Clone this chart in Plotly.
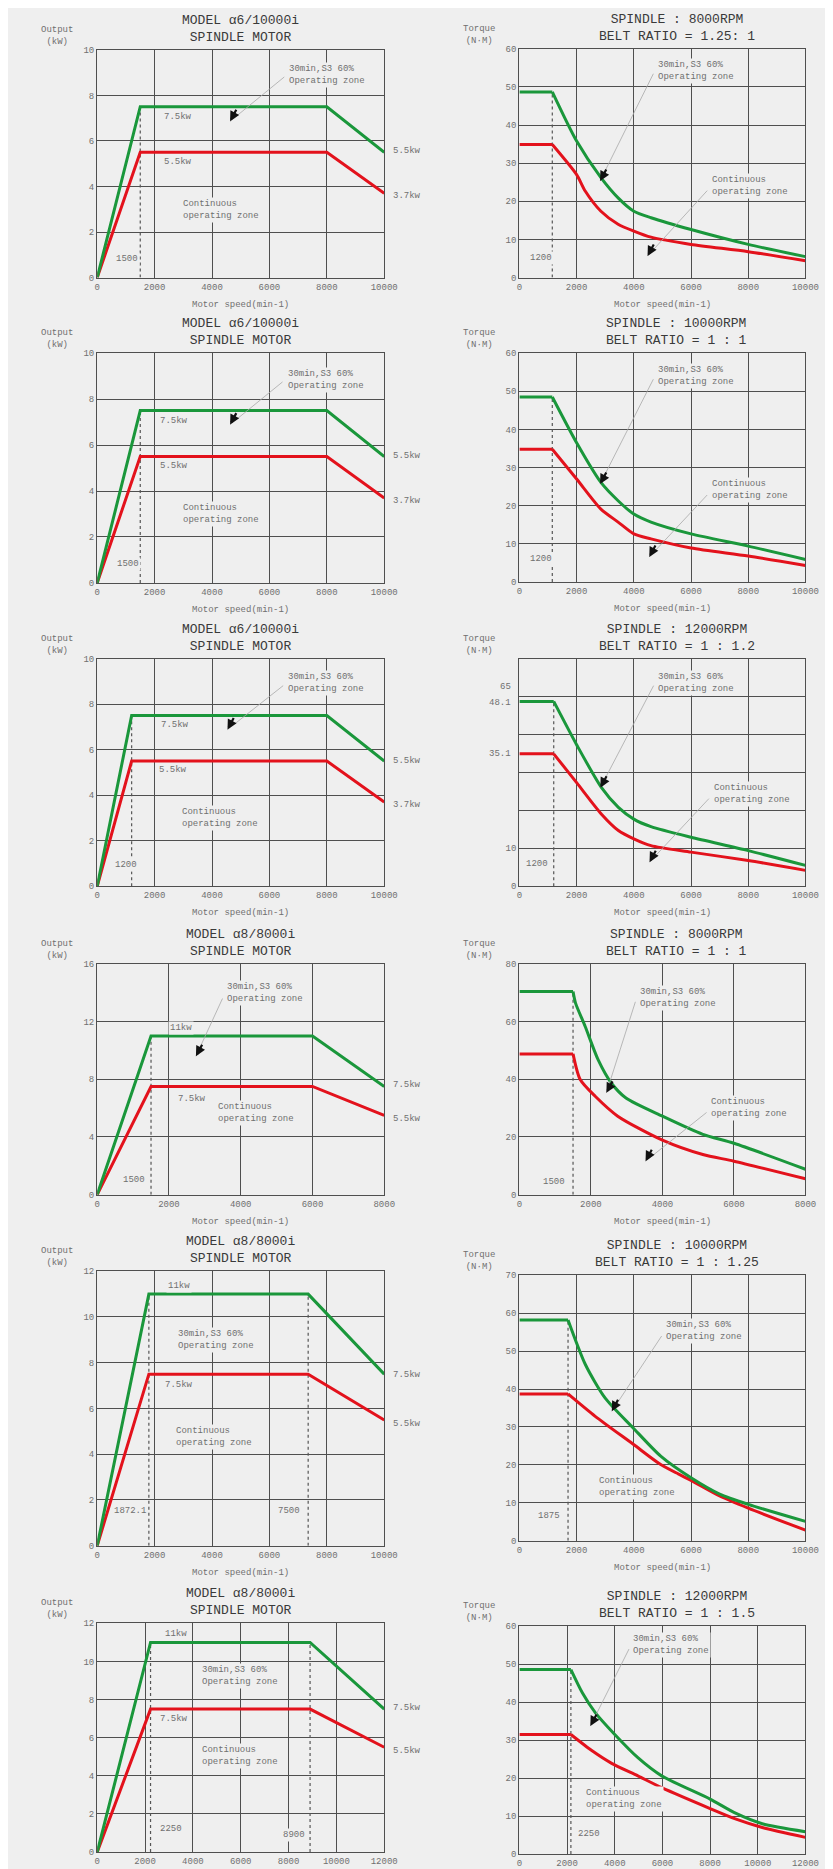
import plotly.graph_objects as go

# ======================= DATA =======================
# --- Output (power) charts, left column: motor speed [min-1] vs output [kW]
pw1_speed = [0, 1500, 8000, 10000]
pw1_30min = [0, 7.5, 7.5, 5.5]
pw1_cont = [0, 5.5, 5.5, 3.7]

pw2_speed = [0, 1500, 8000, 10000]
pw2_30min = [0, 7.5, 7.5, 5.5]
pw2_cont = [0, 5.5, 5.5, 3.7]

pw3_speed = [0, 1200, 8000, 10000]
pw3_30min = [0, 7.5, 7.5, 5.5]
pw3_cont = [0, 5.5, 5.5, 3.7]

pw4_speed = [0, 1500, 6000, 8000]
pw4_30min = [0, 11, 11, 7.5]
pw4_cont = [0, 7.5, 7.5, 5.5]

pw5_speed = [0, 1800, 7350, 10000]
pw5_30min = [0, 11, 11, 7.5]
pw5_cont = [0, 7.5, 7.5, 5.5]

pw6_speed = [0, 2230, 8900, 12000]
pw6_30min = [0, 11, 11, 7.5]
pw6_cont = [0, 7.5, 7.5, 5.5]

# --- Torque charts, right column: motor speed [min-1] vs torque [N*m]
tq1_speed_g = [0, 1150, 2000, 2850, 3450, 4000, 4600, 6000, 8000, 10000]
tq1_30min = [48.7, 48.7, 35.8, 26.2, 20.9, 17.4, 15.7, 12.6, 8.7, 5.5]
tq1_speed_r = [0, 1150, 2000, 2300, 2850, 3450, 4000, 4600, 6000, 8000, 10000]
tq1_cont = [34.9, 34.9, 27.0, 22.7, 17.4, 14.0, 12.2, 10.6, 8.7, 6.8, 4.4]

tq2_speed_g = [0, 1150, 2000, 2850, 3450, 4000, 4600, 6000, 8000, 10000]
tq2_30min = [48.5, 48.5, 36.5, 26.1, 21.3, 17.8, 15.7, 12.6, 9.4, 5.9]
tq2_speed_r = [0, 1150, 2000, 2850, 3450, 4000, 4600, 6000, 8000, 10000]
tq2_cont = [34.8, 34.8, 27.0, 19.1, 15.7, 12.6, 11.3, 8.9, 6.8, 4.3]

tq3_speed_g = [0, 1200, 2000, 2870, 3460, 4000, 4600, 6000, 8000, 10000]
tq3_30min = [48.7, 48.7, 37.3, 26.0, 20.8, 17.7, 15.7, 12.9, 9.4, 5.5]
tq3_speed_r = [0, 1200, 2000, 2870, 3460, 4000, 4600, 6000, 8000, 10000]
tq3_cont = [34.9, 34.9, 27.3, 19.0, 14.7, 12.5, 10.7, 9.0, 6.8, 4.2]

tq4_speed_g = [0, 1500, 1570, 1840, 2200, 2570, 2980, 4000, 5130, 6000, 8000]
tq4_30min = [70.4, 70.4, 66.4, 58.3, 46.8, 38.7, 33.5, 27.2, 20.9, 17.8, 8.8]
tq4_speed_r = [0, 1500, 1700, 2120, 2750, 4000, 5130, 6000, 8000]
tq4_cont = [48.8, 48.8, 39.9, 34.1, 27.2, 18.9, 13.9, 11.6, 5.5]

tq5_speed_g = [0, 1700, 2310, 3000, 3970, 4940, 6000, 7000, 8000, 10000]
tq5_30min = [58.2, 58.2, 46.4, 37.6, 29.8, 22.3, 16.6, 12.3, 9.6, 5.1]
tq5_speed_r = [0, 1700, 2650, 3970, 4940, 6000, 7000, 8000, 10000]
tq5_cont = [38.7, 38.7, 32.8, 25.5, 20.1, 15.9, 11.8, 8.6, 2.8]

tq6_speed_g = [0, 2160, 2640, 3190, 4000, 4970, 5970, 8000, 9090, 10190, 12000]
tq6_30min = [48.6, 48.6, 42.5, 37.2, 31.5, 25.4, 20.6, 14.5, 10.7, 8.0, 5.9]
tq6_speed_r = [0, 2160, 3050, 3870, 4970, 5970, 8000, 9090, 10190, 12000]
tq6_cont = [31.5, 31.5, 27.2, 23.9, 20.6, 17.5, 12.0, 9.2, 7.0, 4.4]

# --- Titles and tick labels
titles = [
    ("MODEL α6/10000i", "SPINDLE MOTOR"),
    ("SPINDLE : 8000RPM", "BELT RATIO = 1.25: 1"),
    ("MODEL α6/10000i", "SPINDLE MOTOR"),
    ("SPINDLE : 10000RPM", "BELT RATIO = 1 : 1"),
    ("MODEL α6/10000i", "SPINDLE MOTOR"),
    ("SPINDLE : 12000RPM", "BELT RATIO = 1 : 1.2"),
    ("MODEL α8/8000i", "SPINDLE MOTOR"),
    ("SPINDLE : 8000RPM", "BELT RATIO = 1 : 1"),
    ("MODEL α8/8000i", "SPINDLE MOTOR"),
    ("SPINDLE : 10000RPM", "BELT RATIO = 1 : 1.25"),
    ("MODEL α8/8000i", "SPINDLE MOTOR"),
    ("SPINDLE : 12000RPM", "BELT RATIO = 1 : 1.5"),
]
x_ticks_10k = [0, 2000, 4000, 6000, 8000, 10000]
x_ticks_8k = [0, 2000, 4000, 6000, 8000]
x_ticks_12k = [0, 2000, 4000, 6000, 8000, 10000, 12000]
y_ticks_pw10 = [0, 2, 4, 6, 8, 10]
y_ticks_pw12 = [0, 2, 4, 6, 8, 10, 12]
y_ticks_pw16 = [0, 4, 8, 12, 16]
y_ticks_tq60 = [0, 10, 20, 30, 40, 50, 60]
y_ticks_tq70 = [0, 10, 20, 30, 40, 50, 60, 70]
y_ticks_tq80 = [0, 20, 40, 60, 80]

# ======================= STYLE / LAYOUT =======================
W, H = 833, 1869
BG = "#efefef"
GRID = "#4f4f4f"
GREEN = "#1a973b"
RED = "#e3121c"
TXT = "#707070"
MONO = "Liberation Mono"

# plot boxes in pixels: (left, right, top, bottom)
boxes = [
    (88, 381, 38, 267), (519, 811, 37, 267),
    (88, 381, 343, 574), (519, 811, 343, 573),
    (88, 381, 650, 879), (519, 811, 650, 879),
    (88, 381, 957, 1189), (519, 811, 957, 1189),
    (88, 381, 1266, 1542), (519, 811, 1270, 1537),
    (88, 381, 1620, 1850), (519, 811, 1623, 1852),
]

Z30 = "30min,S3 60%<br>Operating zone"
ZC = "Continuous<br>operating zone"

panels = [
    dict(kind="pw", sx=pw1_speed, g=pw1_30min, r=pw1_cont, xt=x_ticks_10k, yt=y_ticks_pw10,
         dashes=[pw1_speed[1]],
         texts=[(Z30, .663, .89, "left"), ("7.5kw", .28, .704, "center"), ("5.5kw", .28, .508, "center"),
                (ZC, .291, .295, "left"), ("1500", .103, .08, "center")],
         right=[("5.5kw", .555), ("3.7kw", .358)],
         arrows=[(.463, .686, .653, .885)]),
    dict(kind="tq", sxg=tq1_speed_g, g=tq1_30min, sxr=tq1_speed_r, r=tq1_cont, xt=x_ticks_10k, yt=y_ticks_tq60,
         dashes=[tq1_speed_g[1]],
         texts=[(Z30, .477, .904, "left"), (ZC, .667, .40, "left"), ("1200", .075, .087, "center")],
         right=[], arrows=[(.282, .422, .467, .895), (.448, .094, .657, .385)]),
    dict(kind="pw", sx=pw2_speed, g=pw2_30min, r=pw2_cont, xt=x_ticks_10k, yt=y_ticks_pw10,
         dashes=[pw2_speed[1]],
         texts=[(Z30, .657, .884, "left"), ("7.5kw", .269, .704, "center"), ("5.5kw", .269, .509, "center"),
                (ZC, .291, .299, "left"), ("1500", .109, .082, "center")],
         right=[("5.5kw", .552), ("3.7kw", .357)],
         arrows=[(.463, .689, .647, .879)]),
    dict(kind="tq", sxg=tq2_speed_g, g=tq2_30min, sxr=tq2_speed_r, r=tq2_cont, xt=x_ticks_10k, yt=y_ticks_tq60,
         dashes=[tq2_speed_g[1]],
         texts=[(Z30, .477, .899, "left"), (ZC, .667, .40, "left"), ("1200", .075, .099, "center")],
         right=[], arrows=[(.282, .428, .467, .89), (.454, .109, .657, .385)]),
    dict(kind="pw", sx=pw3_speed, g=pw3_30min, r=pw3_cont, xt=x_ticks_10k, yt=y_ticks_pw10,
         dashes=[pw3_speed[1]],
         texts=[(Z30, .659, .891, "left"), ("7.5kw", .271, .706, "center"), ("5.5kw", .265, .509, "center"),
                (ZC, .288, .30, "left"), ("1200", .099, .092, "center")],
         right=[("5.5kw", .552), ("3.7kw", .358)],
         arrows=[(.454, .688, .649, .885)]),
    dict(kind="tq", sxg=tq3_speed_g, g=tq3_30min, sxr=tq3_speed_r, r=tq3_cont, xt=x_ticks_10k, yt=y_ticks_tq60,
         dashes=[tq3_speed_g[1]],
         texts=[(Z30, .478, .894, "left"), (ZC, .673, .404, "left"), ("1200", .062, .096, "center")],
         right=[], arrows=[(.283, .433, .468, .885), (.455, .106, .663, .39)],
         ylabels=[("65", 52.5), ("48.1", 48.2), ("35.1", 34.9)]),
    dict(kind="pw", sx=pw4_speed, g=pw4_30min, r=pw4_cont, xt=x_ticks_8k, yt=y_ticks_pw16,
         dashes=[pw4_speed[1]],
         texts=[(Z30, .445, .873, "left"), ("11kw", .293, .72, "center"), ("7.5kw", .33, .416, "center"),
                (ZC, .413, .354, "left"), ("1500", .128, .063, "center")],
         right=[("7.5kw", .473), ("5.5kw", .326)],
         arrows=[(.344, .60, .437, .855)]),
    dict(kind="tq", sxg=tq4_speed_g, g=tq4_30min, sxr=tq4_speed_r, r=tq4_cont, xt=x_ticks_8k, yt=y_ticks_tq80,
         dashes=[tq4_speed_g[1]],
         texts=[(Z30, .413, .854, "left"), (ZC, .664, .376, "left"), ("1500", .122, .055, "center")],
         right=[], arrows=[(.304, .441, .405, .84), (.441, .145, .655, .36)]),
    dict(kind="pw", sx=pw5_speed, g=pw5_30min, r=pw5_cont, xt=x_ticks_10k, yt=y_ticks_pw12,
         dashes=[pw5_speed[1], pw5_speed[2]],
         texts=[(Z30, .274, .75, "left"), ("11kw", .285, .945, "center"), ("7.5kw", .285, .586, "center"),
                (ZC, .268, .395, "left"), ("1872.1", .114, .127, "center"), ("7500", .667, .125, "center")],
         right=[("7.5kw", .623), ("5.5kw", .444)],
         arrows=[]),
    dict(kind="tq", sxg=tq5_speed_g, g=tq5_30min, sxr=tq5_speed_r, r=tq5_cont, xt=x_ticks_10k, yt=y_ticks_tq70,
         dashes=[tq5_speed_g[1]],
         texts=[(Z30, .506, .79, "left"), (ZC, .271, .2025, "left"), ("1875", .105, .094, "center")],
         right=[], arrows=[(.323, .4875, .497, .775)]),
    dict(kind="pw", sx=pw6_speed, g=pw6_30min, r=pw6_cont, xt=x_ticks_12k, yt=y_ticks_pw12,
         dashes=[pw6_speed[1], pw6_speed[2]],
         texts=[(Z30, .359, .771, "left"), ("11kw", .228, .955, "left"), ("7.5kw", .211, .584, "left"),
                (ZC, .359, .42, "left"), ("2250", .211, .101, "left"), ("8900", .684, .075, "center")],
         right=[("7.5kw", .63), ("5.5kw", .442)],
         arrows=[]),
    dict(kind="tq", sxg=tq6_speed_g, g=tq6_30min, sxr=tq6_speed_r, r=tq6_cont, xt=x_ticks_12k, yt=y_ticks_tq60,
         dashes=[tq6_speed_g[1]],
         texts=[(Z30, .391, .92, "left"), (ZC, .225, .241, "left"), ("2250", .197, .088, "left")],
         right=[], arrows=[(.248, .562, .383, .905)]),
]

fig = go.Figure()
layout_axes = {}
annotations = []

small_font = dict(family=MONO, size=9, color=TXT)

for k, p in enumerate(panels, start=1):
    xa = "x" if k == 1 else f"x{k}"
    ya = "y" if k == 1 else f"y{k}"
    xkey = "xaxis" if k == 1 else f"xaxis{k}"
    ykey = "yaxis" if k == 1 else f"yaxis{k}"
    L, R, T, B = boxes[k - 1]
    wpx, hpx = R - L, B - T
    xmax = p["xt"][-1]
    ymax = p["yt"][-1]

    # dotted speed markers (vertical), height = 30-min flat level
    gflat = p["g"][1]
    for d in p["dashes"]:
        fig.add_trace(go.Scatter(x=[d, d], y=[0, gflat], xaxis=xa, yaxis=ya, mode="lines",
                                 line=dict(color="#555555", width=1.2, dash="dot"),
                                 hoverinfo="skip", showlegend=False))

    if p["kind"] == "pw":
        fig.add_trace(go.Scatter(x=p["sx"], y=p["r"], xaxis=xa, yaxis=ya, mode="lines",
                                 line=dict(color=RED, width=3), showlegend=False, cliponaxis=False))
        fig.add_trace(go.Scatter(x=p["sx"], y=p["g"], xaxis=xa, yaxis=ya, mode="lines",
                                 line=dict(color=GREEN, width=3), showlegend=False, cliponaxis=False))
    else:
        for sx, sy, col in ((p["sxr"], p["r"], RED), (p["sxg"], p["g"], GREEN)):
            fig.add_trace(go.Scatter(x=sx[:2], y=sy[:2], xaxis=xa, yaxis=ya, mode="lines",
                                     line=dict(color=col, width=3), showlegend=False, cliponaxis=False))
            fig.add_trace(go.Scatter(x=sx[1:], y=sy[1:], xaxis=xa, yaxis=ya, mode="lines",
                                     line=dict(color=col, width=3, shape="spline", smoothing=0.7),
                                     showlegend=False, cliponaxis=False))

    ytickvals = p["yt"]
    yticktext = [str(v) for v in p["yt"]]
    if "ylabels" in p:
        yticktext = ["0", "10"] + [""] * (len(ytickvals) - 2)

    tickfont = dict(family=MONO, size=9, color=TXT)
    layout_axes[xkey] = dict(
        domain=[L / W, R / W], range=[0, xmax], anchor=ya,
        tickvals=p["xt"], ticktext=[str(v) for v in p["xt"]],
        showgrid=True, gridcolor=GRID, gridwidth=1.4, zeroline=False,
        showline=True, mirror=True, linecolor=GRID, linewidth=1.4,
        ticks="", tickfont=tickfont, fixedrange=True,
    )
    layout_axes[ykey] = dict(
        domain=[1 - B / H, 1 - T / H], range=[0, ymax], anchor=xa,
        tickvals=ytickvals, ticktext=yticktext,
        showgrid=True, gridcolor=GRID, gridwidth=1.4, zeroline=False,
        showline=True, mirror=True, linecolor=GRID, linewidth=1.4,
        ticks="", tickfont=tickfont, fixedrange=True,
    )

    xd = f"{xa} domain"
    yd = f"{ya} domain"

    # title (two lines)
    t1, t2 = titles[k - 1]
    tx = 0.5 if p["kind"] == "pw" else 0.55
    annotations.append(dict(text=f"{t1}<br>{t2}", xref=xd, yref=yd, x=tx, y=1, yshift=3, showarrow=False,
                            font=dict(family=MONO, size=13, color="#3a3a3a"),
                            xanchor="center", yanchor="bottom", align="center"))

    # y-axis caption
    cap = ("Output", "(kW)") if p["kind"] == "pw" else ("Torque", "(N·M)")
    annotations.append(dict(text=f"{cap[0]}<br>{cap[1]}", xref=xd, yref=yd, x=0, xshift=-40, y=1, yshift=14,
                            showarrow=False, font=small_font, xanchor="center", yanchor="middle"))
    # x-axis caption (bottom row is cut by the picture edge in the reference)
    if k <= 10:
        annotations.append(dict(text="Motor speed(min-1)", xref=xd, yref=yd, x=0.5, y=0, yshift=-27,
                                showarrow=False, font=small_font, xanchor="center", yanchor="middle"))

    for txt, val in p.get("ylabels", []):
        annotations.append(dict(text=txt, xref=xd, yref=ya, x=0, xshift=-6, y=val, showarrow=False,
                                font=tickfont, xanchor="right", yanchor="middle"))

    for txt, fx, fy, anc in p["texts"]:
        annotations.append(dict(text=txt, xref=xd, yref=yd, x=fx, y=fy, showarrow=False, align="left",
                                font=small_font, xanchor=anc, yanchor="middle", bgcolor=BG))
    for txt, fy in p["right"]:
        annotations.append(dict(text=txt, xref=xd, yref=yd, x=1, xshift=7, y=fy, showarrow=False,
                                font=small_font, xanchor="left", yanchor="middle"))

    for tfx, tfy, sfx, sfy in p["arrows"]:
        annotations.append(dict(text="", xref=xd, yref=yd, x=tfx, y=tfy,
                                ax=(sfx - tfx) * wpx, ay=-(sfy - tfy) * hpx,
                                showarrow=True, arrowhead=0, arrowwidth=0.8, arrowcolor="#a8a8a8"))
        annotations.append(dict(text="", xref=xd, yref=yd, x=tfx, y=tfy, ax=7, ay=-13,
                                showarrow=True, arrowhead=2, arrowsize=0.9, arrowwidth=2.2,
                                arrowcolor="#111111"))

fig.update_layout(
    width=W, height=H, autosize=False,
    margin=dict(l=0, r=0, t=0, b=0),
    paper_bgcolor=BG, plot_bgcolor=BG,
    showlegend=False,
    annotations=annotations,
    **layout_axes,
)

fig.write_html("out.html")
